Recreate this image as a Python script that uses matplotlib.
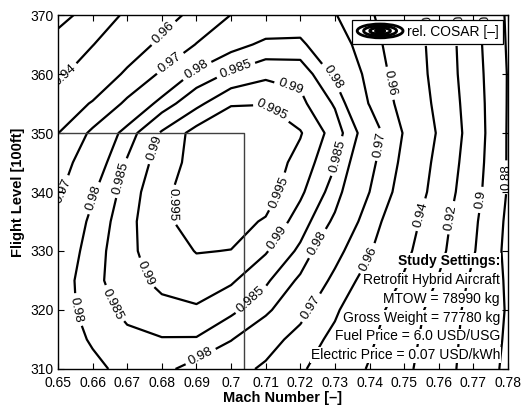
import numpy as np
import matplotlib.pyplot as plt
from matplotlib.patches import Ellipse
from matplotlib.legend_handler import HandlerBase

plt.rcParams['font.family'] = ['Liberation Sans', 'DejaVu Sans']

# Grid of the study: Mach number x flight level
mach = [0.65, 0.66, 0.67, 0.68, 0.69, 0.70, 0.71, 0.72, 0.73, 0.74, 0.75, 0.76, 0.77, 0.78]
flight_level = [310, 315, 320, 325, 330, 335, 340, 345, 350, 355, 360, 365, 370]

# relative COSAR for each flight level (one row per FL)
cosar_fl310 = [0.9755, 0.9785, 0.9818, 0.9815, 0.9777, 0.9734, 0.9685, 0.9620, 0.9512, 0.9386, 0.9243, 0.9083, 0.8920, 0.8760]
cosar_fl315 = [0.9765, 0.9807, 0.9835, 0.9847, 0.9846, 0.9803, 0.9739, 0.9666, 0.9568, 0.9428, 0.9272, 0.9100, 0.8928, 0.8775]
cosar_fl320 = [0.9775, 0.9823, 0.9865, 0.9885, 0.9893, 0.9862, 0.9815, 0.9732, 0.9620, 0.9475, 0.9309, 0.9120, 0.8938, 0.8785]
cosar_fl325 = [0.9769, 0.9834, 0.9882, 0.9913, 0.9928, 0.9907, 0.9859, 0.9789, 0.9678, 0.9550, 0.9381, 0.9188, 0.8962, 0.8775]
cosar_fl330 = [0.9756, 0.9825, 0.9889, 0.9925, 0.9952, 0.9949, 0.9905, 0.9839, 0.9732, 0.9612, 0.9445, 0.9250, 0.9015, 0.8750]
cosar_fl335 = [0.9741, 0.9813, 0.9884, 0.9942, 0.9965, 0.9968, 0.9945, 0.9876, 0.9788, 0.9658, 0.9491, 0.9280, 0.9036, 0.8764]
cosar_fl340 = [0.9687, 0.9793, 0.9872, 0.9942, 0.9968, 0.9975, 0.9975, 0.9910, 0.9826, 0.9700, 0.9549, 0.9324, 0.9072, 0.8786]
cosar_fl345 = [0.9654, 0.9761, 0.9855, 0.9925, 0.9968, 0.9985, 0.9980, 0.9933, 0.9854, 0.9729, 0.9572, 0.9351, 0.9096, 0.8785]
cosar_fl350 = [0.9598, 0.9719, 0.9827, 0.9906, 0.9970, 1.0000, 0.9992, 0.9954, 0.9877, 0.9760, 0.9592, 0.9382, 0.9114, 0.8785]
cosar_fl355 = [0.9519, 0.9610, 0.9719, 0.9825, 0.9886, 0.9945, 0.9948, 0.9913, 0.9844, 0.9695, 0.9562, 0.9355, 0.9104, 0.8788]
cosar_fl360 = [0.9367, 0.9500, 0.9622, 0.9714, 0.9818, 0.9858, 0.9888, 0.9885, 0.9787, 0.9676, 0.9535, 0.9336, 0.9088, 0.8790]
cosar_fl365 = [0.9282, 0.9395, 0.9523, 0.9630, 0.9703, 0.9780, 0.9812, 0.9812, 0.9745, 0.9653, 0.9512, 0.9333, 0.9074, 0.8780]
cosar_fl370 = [0.9130, 0.9284, 0.9430, 0.9547, 0.9636, 0.9701, 0.9750, 0.9760, 0.9705, 0.9618, 0.9490, 0.9316, 0.9063, 0.8770]

levels = [0.88, 0.9, 0.92, 0.94, 0.96, 0.97, 0.98, 0.985, 0.99, 0.995]

# design point
design_mach = 0.7036
design_fl = 350

settings_title = 'Study Settings:'
settings_lines = ['Retrofit Hybrid Aircraft',
                  'MTOW = 78990 kg',
                  'Gross Weight = 77780 kg',
                  'Fuel Price = 6.0 USD/USG',
                  'Electric Price = 0.07 USD/kWh']

# where the contour labels go (Mach, FL)
label_spots = {
    0.88: [(0.7790, 342.5)],
    0.9: [(0.7729, 338.6), (0.7713, 368.2)],
    0.92: [(0.7639, 335.6), (0.7645, 367.6)],
    0.94: [(0.6523, 359.5), (0.7552, 336.1), (0.7555, 367.6)],
    0.96: [(0.6799, 367.3), (0.7465, 358.5), (0.7399, 328.6)],
    0.97: [(0.6813, 362.7), (0.7436, 348.0), (0.7233, 320.3), (0.6506, 340.3)],
    0.98: [(0.6903, 360.5), (0.7294, 359.5), (0.7257, 331.0), (0.6914, 311.9),
           (0.6552, 320.0), (0.6601, 339.0)],
    0.985: [(0.7013, 360.8), (0.7312, 346.0), (0.7056, 321.9), (0.6651, 320.8),
            (0.6680, 342.4)],
    0.99: [(0.7167, 356.8), (0.7138, 332.2), (0.6749, 326.1), (0.6775, 347.5)],
    0.995: [(0.7114, 353.6), (0.7143, 339.8), (0.6830, 337.8)],
}


class ContourIcon(HandlerBase):
    # nested ellipses as legend key for the contour set
    def create_artists(self, legend, orig_handle, xdescent, ydescent,
                       width, height, fontsize, trans):
        cx = width / 2 - xdescent
        cy = height / 2 - ydescent
        arts = []
        for s in (1.0, 0.72, 0.45, 0.2):
            arts.append(Ellipse((cx, cy), width * s, height * 1.3 * s,
                                fill=False, ec='k', lw=2.0, transform=trans))
        return arts


fig = plt.figure(figsize=(5.21, 4.07), dpi=100)
ax = fig.add_axes([0.1113, 0.0934, 0.8637, 0.8697])

Z = np.array([cosar_fl310, cosar_fl315, cosar_fl320, cosar_fl325, cosar_fl330,
              cosar_fl335, cosar_fl340, cosar_fl345, cosar_fl350, cosar_fl355,
              cosar_fl360, cosar_fl365, cosar_fl370])

# one contour set per level so every label lands on its own line
for lvl in levels:
    cs = ax.contour(mach, flight_level, Z, levels=[lvl], colors='k', linewidths=1.6)
    ax.clabel(cs, manual=label_spots[lvl], inline=True, fmt='%g',
              fontsize=9.5, inline_spacing=4)

ax.plot([mach[0], design_mach, design_mach],
        [design_fl, design_fl, flight_level[0]], color='0.25', lw=1.0)

ax.set_xlim(mach[0], mach[-1])
ax.set_ylim(flight_level[0], flight_level[-1])
ax.set_xticks(mach)
ax.set_xticklabels(['%g' % m for m in mach])
ax.set_yticks(flight_level[::2])
ax.tick_params(direction='in', top=True, right=True, length=4, width=0.8,
               labelsize=10)
ax.tick_params(axis='x', pad=5)
ax.tick_params(axis='y', pad=3)
for sp in ax.spines.values():
    sp.set_linewidth(1.0)

ax.set_xlabel('Mach Number [\u2013]', fontweight='bold', fontsize=10.5, labelpad=0.5)
ax.set_ylabel('Flight Level [100ft]', fontweight='bold', fontsize=10.5, labelpad=4)

proxy = object()
leg = ax.legend([proxy], ['rel. COSAR [\u2013]'], handler_map={proxy: ContourIcon()},
                loc='upper right', fancybox=False, edgecolor='k', framealpha=1,
                fontsize=10, handlelength=3.3, handleheight=0.8, borderpad=0.35,
                borderaxespad=0.35, handletextpad=0.25)
leg.get_frame().set_linewidth(0.9)

# settings block, one line per entry on white
box = dict(facecolor='white', edgecolor='none', pad=0.5)
ax.text(0.982, 0.306, settings_title, transform=ax.transAxes, ha='right', va='center',
        fontsize=10, fontweight='bold', bbox=box)
for i, line in enumerate(settings_lines):
    ax.text(0.982, 0.251 - i * 0.0529, line, transform=ax.transAxes, ha='right',
            va='center', fontsize=10, bbox=box)

fig.savefig('out.png', dpi=100)
